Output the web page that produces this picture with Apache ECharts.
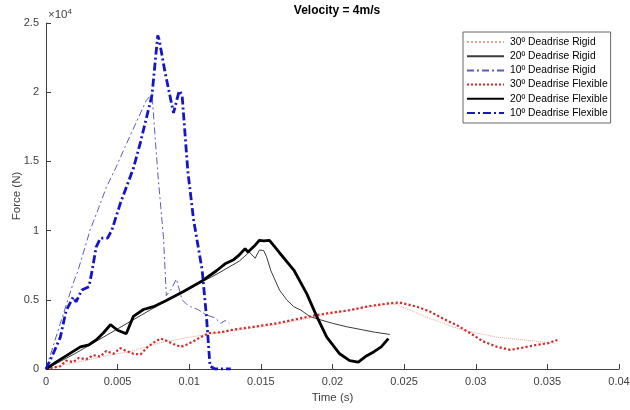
<!DOCTYPE html>
<html>
<head>
<meta charset="utf-8">
<script src="https://cdn.jsdelivr.net/npm/echarts@6/dist/echarts.min.js"></script>
<style>
  html, body { margin: 0; padding: 0; background: #fff; }
  #chart { width: 630px; height: 410px; }
</style>
</head>
<body>
<div id="chart"></div>
<script>
// x ticks and y ticks (y is shown in units of 10^4 N)
const xTicks = [0, 0.005, 0.01, 0.015, 0.02, 0.025, 0.03, 0.035, 0.04]
const yTicks = [0, 0.5, 1, 1.5, 2, 2.5]

// 30º deadrise rigid
const t30R = [0, 0.002, 0.004, 0.006, 0.008, 0.01, 0.012, 0.014, 0.016, 0.018, 0.02, 0.022, 0.024, 0.0245, 0.0268, 0.0291, 0.0315, 0.0338, 0.0347, 0.0355]
const f30R = [0, 450, 900, 1300, 1900, 2300, 2600, 2900, 3200, 3600, 4000, 4400, 4700, 4650, 3650, 2800, 2300, 2050, 1950, 1850]

// 20º deadrise rigid
const t20R = [0, 0.002, 0.004, 0.006, 0.008, 0.01, 0.012, 0.0135, 0.0142, 0.0146, 0.0149, 0.0152, 0.0154, 0.0157, 0.0163, 0.0168, 0.0173, 0.0178, 0.0184, 0.019, 0.02, 0.021, 0.022, 0.023, 0.024]
const f20R = [0, 1100, 2300, 3500, 4700, 5800, 6900, 7800, 8450, 8000, 8600, 8550, 8100, 7100, 5700, 5000, 4500, 4250, 3800, 3600, 3300, 3050, 2850, 2650, 2500]

// 10º deadrise rigid
const t10R = [0, 0.001, 0.0019, 0.0022, 0.0031, 0.0037, 0.0042, 0.0049, 0.0055, 0.0062, 0.007, 0.0074, 0.0076, 0.0078, 0.0082, 0.0084, 0.0087, 0.0091, 0.0095, 0.0098, 0.0101, 0.0106, 0.0112, 0.0118, 0.0122, 0.0125, 0.0128]
const f10R = [0, 3300, 6200, 7000, 10100, 11700, 13100, 14600, 16000, 17600, 19400, 19900, 17000, 14200, 9500, 5300, 5700, 6500, 5000, 4700, 4500, 4300, 3900, 3700, 3300, 3500, 3300]

// 30º deadrise flexible
const t30F = [0, 0.0005, 0.001, 0.0014, 0.0019, 0.0023, 0.0028, 0.0033, 0.0038, 0.0042, 0.0047, 0.0052, 0.0056, 0.0061, 0.0066, 0.0071, 0.0075, 0.008, 0.0084, 0.0089, 0.0094, 0.0098, 0.0103, 0.0108, 0.0114, 0.0122, 0.0131, 0.0145, 0.0161, 0.0177, 0.0189, 0.0198, 0.0212, 0.0226, 0.024, 0.0247, 0.0259, 0.0268, 0.0277, 0.0287, 0.0296, 0.0305, 0.0315, 0.0324, 0.0333, 0.0343, 0.035, 0.0357]
const f30F = [0, 100, 200, 600, 500, 800, 700, 1000, 900, 1300, 1100, 1500, 1300, 1100, 1050, 1600, 1900, 2200, 2050, 1800, 1600, 1750, 2000, 2300, 2600, 2650, 2850, 3050, 3300, 3650, 3900, 4050, 4250, 4550, 4750, 4800, 4500, 4150, 3650, 3150, 2600, 2000, 1600, 1380, 1550, 1750, 1850, 2100]

// 20º deadrise flexible
const t20F = [0, 0.0007, 0.0014, 0.0024, 0.003, 0.0035, 0.004, 0.0045, 0.005, 0.0056, 0.0061, 0.0068, 0.0075, 0.0084, 0.0096, 0.0108, 0.0119, 0.0125, 0.0131, 0.0135, 0.0139, 0.0141, 0.0146, 0.0149, 0.0152, 0.0156, 0.0163, 0.0173, 0.0182, 0.0189, 0.0196, 0.0205, 0.0212, 0.0218, 0.0223, 0.0229, 0.0234, 0.0239]
const f20F = [0, 500, 950, 1600, 1750, 2100, 2600, 3200, 2800, 2550, 3800, 4300, 4500, 4950, 5600, 6300, 7100, 7600, 7900, 8250, 8700, 8450, 8950, 9300, 9250, 9300, 8400, 7150, 5450, 3800, 2300, 1100, 600, 500, 900, 1250, 1600, 2200]

// 10º deadrise flexible
const t10F = [0, 0.0005, 0.001, 0.0014, 0.0019, 0.0021, 0.0025, 0.003, 0.0032, 0.0035, 0.0038, 0.0043, 0.0046, 0.0052, 0.0061, 0.0066, 0.0074, 0.0078, 0.0079, 0.0083, 0.0089, 0.0093, 0.0095, 0.0099, 0.0103, 0.0109, 0.0112, 0.01145, 0.0118, 0.0124, 0.0129]
const f10F = [0, 1100, 2300, 4200, 5200, 4850, 5700, 5950, 7000, 8800, 9450, 9450, 10050, 12000, 14500, 16400, 19800, 24100, 23800, 21500, 18500, 20100, 19800, 14300, 10800, 7150, 3800, 200, 0, 0, 0]

const zip = (t, f) => t.map((x, i) => [x, f[i]])

const font = 'Liberation Sans, Arial, sans-serif'
const axisColor = '#404040'

function line(name, t, f, color, width, type) {
  return {
    name: name,
    type: 'line',
    symbol: 'none',
    animation: false,
    lineStyle: { color: color, width: width, type: type },
    itemStyle: { color: color },
    data: zip(t, f)
  }
}

const chart = echarts.init(document.getElementById('chart'))

chart.setOption({
  backgroundColor: '#fff',
  animation: false,
  title: {
    text: 'Velocity = 4m/s',
    left: 332,
    textAlign: 'center',
    top: 0,
    textStyle: { fontFamily: font, fontSize: 12, fontWeight: 'bold', color: '#000' }
  },
  legend: {
    orient: 'vertical',
    left: 463,
    top: 32,
    padding: [3, 3, 3, 3],
    itemWidth: 37,
    itemHeight: 14,
    itemGap: 0.2,
    itemStyle: { opacity: 0 },
    backgroundColor: '#fff',
    borderColor: '#666',
    borderWidth: 1,
    borderRadius: 0,
    textStyle: { fontFamily: font, fontSize: 10.3, lineHeight: 14, color: '#000', padding: [0, 0, 0, 1] }
  },
  graphic: [{
    type: 'text',
    left: 48,
    top: 8,
    style: {
      text: '×10{s|4}',
      fontFamily: font,
      fontSize: 11.5,
      fill: axisColor,
      rich: { s: { fontSize: 8, verticalAlign: 'top', padding: [0, 0, 6, 0], fontFamily: font, fill: axisColor } }
    }
  }],
  grid: { left: 46, right: 11, top: 23, bottom: 41, outerBoundsMode: 'none', containLabel: false },
  xAxis: {
    type: 'value',
    min: 0,
    max: 0.04,
    interval: 0.005,
    name: 'Time (s)',
    nameLocation: 'middle',
    nameGap: 22,
    nameTextStyle: { fontFamily: font, fontSize: 11.5, color: axisColor },
    axisLine: { lineStyle: { color: axisColor, width: 1 } },
    axisTick: { inside: true, length: 5, lineStyle: { color: axisColor } },
    splitLine: { show: false },
    axisLabel: {
      fontFamily: font, fontSize: 11, color: axisColor, margin: 7,
      formatter: v => xTicks.includes(+v.toFixed(3)) ? String(+v.toFixed(3)) : ''
    }
  },
  yAxis: {
    type: 'value',
    min: 0,
    max: 25000,
    interval: 5000,
    name: 'Force (N)',
    nameLocation: 'middle',
    nameGap: 23,
    nameMoveOverlap: false,
    nameTextStyle: { fontFamily: font, fontSize: 11.5, color: axisColor },
    axisLine: { show: true, lineStyle: { color: axisColor, width: 1 } },
    axisTick: { show: true, inside: true, length: 5, lineStyle: { color: axisColor } },
    splitLine: { show: false },
    axisLabel: {
      fontFamily: font, fontSize: 11, color: axisColor, margin: 7,
      formatter: v => String(yTicks[Math.round(v / 5000)])
    }
  },
  series: [
    line('30º Deadrise Rigid', t30R, f30R, '#e8a596', 1, 'dotted'),
    line('20º Deadrise Rigid', t20R, f20R, '#3a3a3a', 1, 'solid'),
    line('10º Deadrise Rigid', t10R, f10R, '#5b5bbf', 1, [7, 3, 2, 3]),
    line('30º Deadrise Flexible', t30F, f30F, '#d42a2a', 2.2, 'dotted'),
    line('20º Deadrise Flexible', t20F, f20F, '#000000', 2.8, 'solid'),
    line('10º Deadrise Flexible', t10F, f10F, '#1414c8', 2.8, [8, 3, 2, 3])
  ]
})
</script>
</body>
</html>
